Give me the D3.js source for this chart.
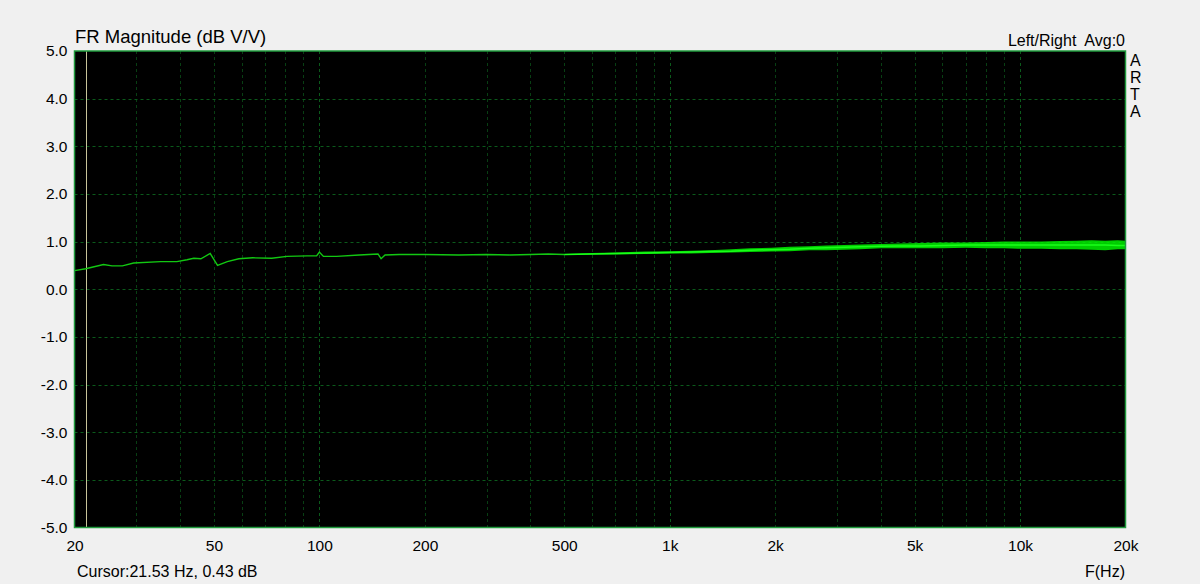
<!DOCTYPE html>
<html>
<head>
<meta charset="utf-8">
<script src="https://cdn.jsdelivr.net/npm/d3@7"></script>
<style>
  html, body { margin: 0; padding: 0; background: #f0f0f0; }
  svg { display: block; }
  text { font-family: "Liberation Sans", Arial, sans-serif; fill: #000; }
</style>
</head>
<body>
<svg id="chart" width="1200" height="584"></svg>
<script>
// ---- data ----
const xTickValues = [20, 50, 100, 200, 500, 1000, 2000, 5000, 10000, 20000];
const xTickLabels = ["20", "50", "100", "200", "500", "1k", "2k", "5k", "10k", "20k"];
const yTickValues = [-5, -4, -3, -2, -1, 0, 1, 2, 3, 4, 5];
const yTickLabels = ["-5.0", "-4.0", "-3.0", "-2.0", "-1.0", "0.0", "1.0", "2.0", "3.0", "4.0", "5.0"];

// low-frequency trace (Hz, dB)
const lowFreq = [20, 21.53, 24.2, 25.6, 27.4, 29.5, 35.2, 39.2, 41.9, 43.8, 45.9, 48.8, 51.2, 54.6, 58.9, 64.6, 73.1, 80.8, 92.3, 98.2, 100, 102.7, 112, 130, 147, 150, 154, 169, 200, 250, 300, 350, 400, 450, 500];
const lowDb   = [0.39, 0.43, 0.52, 0.49, 0.49, 0.55, 0.58, 0.58, 0.62, 0.65, 0.64, 0.75, 0.50, 0.58, 0.64, 0.66, 0.65, 0.69, 0.70, 0.70, 0.78, 0.69, 0.69, 0.72, 0.74, 0.64, 0.72, 0.73, 0.73, 0.72, 0.73, 0.72, 0.73, 0.74, 0.73];

// high-frequency noisy part: envelope (Hz, low dB, mean dB, high dB)
const hiFreq = [500, 600, 700, 850, 1000, 1150, 1300, 1500, 1700, 1950, 2200, 2500, 2800, 3150, 3500, 4000, 4500, 5200, 6000, 7000, 8000, 9000, 10000, 11500, 13000, 14500, 16000, 17500, 19000, 20000];
const hiLow  = [0.72, 0.73, 0.73, 0.74, 0.75, 0.75, 0.76, 0.77, 0.78, 0.79, 0.80, 0.82, 0.82, 0.83, 0.84, 0.86, 0.86, 0.86, 0.86, 0.87, 0.86, 0.86, 0.85, 0.85, 0.84, 0.84, 0.83, 0.82, 0.84, 0.84];
const hiMean = [0.73, 0.74, 0.75, 0.76, 0.77, 0.78, 0.79, 0.80, 0.82, 0.83, 0.84, 0.86, 0.87, 0.88, 0.89, 0.90, 0.91, 0.91, 0.92, 0.93, 0.93, 0.93, 0.93, 0.93, 0.93, 0.93, 0.93, 0.93, 0.92, 0.92];
const hiHigh = [0.74, 0.76, 0.77, 0.79, 0.80, 0.81, 0.82, 0.84, 0.86, 0.87, 0.89, 0.90, 0.92, 0.93, 0.94, 0.95, 0.96, 0.97, 0.98, 0.98, 0.99, 1.00, 1.00, 1.00, 1.01, 1.02, 1.03, 1.02, 1.03, 1.02];

const cursorFreq = 21.53;
const cursorDb = 0.43;

// ---- layout ----
const L = 74.5, R = 1125.5, T = 51, B = 527.5;
const svg = d3.select("#chart");

const x = d3.scaleLog().domain([20, 20000]).range([L, R]);
const y = d3.scaleLinear().domain([-5, 5]).range([B, T]);

// plot background
svg.append("rect").attr("x", L).attr("y", T).attr("width", R - L).attr("height", B - T).attr("fill", "#000");

// vertical grid (1..9 per decade)
const vGrid = [];
for (let d = 10; d <= 10000; d *= 10) for (let m = 1; m <= 9; m++) { const f = m * d; if (f > 20 && f < 20000) vGrid.push(f); }
svg.append("g").selectAll("line").data(vGrid).join("line")
  .attr("x1", d => Math.round(x(d)) + 0.5).attr("x2", d => Math.round(x(d)) + 0.5)
  .attr("y1", T).attr("y2", B)
  .attr("stroke", d => [100, 1000, 10000].includes(d) ? "#0b5a1b" : "#083f13")
  .attr("stroke-width", 1)
  .attr("stroke-dasharray", "3,3");

// horizontal grid
svg.append("g").selectAll("line").data(yTickValues.filter(v => v > -5 && v < 5)).join("line")
  .attr("x1", L).attr("x2", R)
  .attr("y1", d => Math.round(y(d)) + 0.5).attr("y2", d => Math.round(y(d)) + 0.5)
  .attr("stroke", "#0b5a1b").attr("stroke-width", 1).attr("stroke-dasharray", "3,3");

// cursor line
svg.append("line").attr("x1", Math.round(x(cursorFreq)) + 0.5).attr("x2", Math.round(x(cursorFreq)) + 0.5)
  .attr("y1", T).attr("y2", B).attr("stroke", "#c8c49a").attr("stroke-width", 1);

// noisy band
const band = hiFreq.map((f, i) => ({ f, lo: hiLow[i], mid: hiMean[i], hi: hiHigh[i] }));
svg.append("path").datum(band)
  .attr("d", d3.area().x(d => x(d.f)).y0(d => y(d.lo)).y1(d => y(d.hi)))
  .attr("fill", "#00f000").attr("opacity", 0.85);
svg.append("path").datum(band)
  .attr("d", d3.line().x(d => x(d.f)).y(d => y(d.mid)))
  .attr("fill", "none").attr("stroke", "#18ff18").attr("stroke-width", 1.5);

// low-frequency trace
const low = lowFreq.map((f, i) => ({ f, v: lowDb[i] }));
svg.append("path").datum(low)
  .attr("d", d3.line().x(d => x(d.f)).y(d => y(d.v)))
  .attr("fill", "none").attr("stroke", "#12c812").attr("stroke-width", 1.4);

// frame
svg.append("rect").attr("x", L).attr("y", T).attr("width", R - L).attr("height", B - T)
  .attr("fill", "none").attr("stroke", "#1f9a3c").attr("stroke-width", 1.5);

// axes labels
const yAxis = d3.axisLeft(y).tickValues(yTickValues).tickFormat((d, i) => yTickLabels[i]).tickSize(0).tickPadding(7);
const gy = svg.append("g").attr("transform", `translate(${L},0)`).call(yAxis);
gy.select(".domain").remove();
gy.selectAll("text").attr("font-size", 15.5).attr("font-family", "Liberation Sans, Arial, sans-serif").attr("fill", "#000");

const xAxis = d3.axisBottom(x).tickValues(xTickValues).tickFormat((d, i) => xTickLabels[i]).tickSize(0).tickPadding(12);
const gx = svg.append("g").attr("transform", `translate(0,${B})`).call(xAxis);
gx.select(".domain").remove();
gx.selectAll("text").attr("font-size", 15.5).attr("font-family", "Liberation Sans, Arial, sans-serif").attr("fill", "#000");

// texts
svg.append("text").attr("x", 75).attr("y", 43).attr("font-size", 18.5).text("FR Magnitude (dB V/V)");
svg.append("text").attr("x", 1125).attr("y", 46).attr("font-size", 16).attr("text-anchor", "end").attr("xml:space", "preserve").text("Left/Right  Avg:0");
["A", "R", "T", "A"].forEach((c, i) => {
  svg.append("text").attr("x", 1130).attr("y", 66 + i * 17).attr("font-size", 16).text(c);
});
svg.append("text").attr("x", 77).attr("y", 577).attr("font-size", 16).text(`Cursor:${cursorFreq} Hz, ${cursorDb} dB`);
svg.append("text").attr("x", 1125).attr("y", 577).attr("font-size", 16).attr("text-anchor", "end").text("F(Hz)");
</script>
</body>
</html>
